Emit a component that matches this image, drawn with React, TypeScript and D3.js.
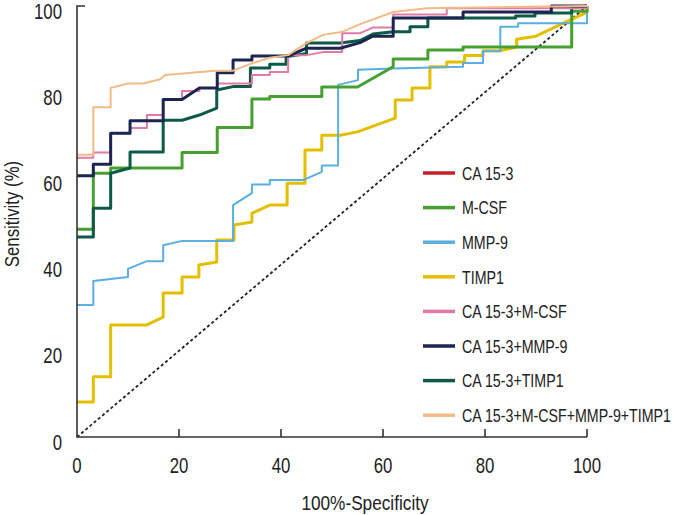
import * as d3 from "d3";
import React from "react";

// ROC curves: [100% - specificity, sensitivity]
const ca153: number[][] = []; // hidden under the other curves, legend only
const mcsf = [[0,48.2],[3.2,48.2],[3.2,61.2],[6.6,61.2],[6.6,62.4],[20.6,62.4],[20.6,66],[27.5,66],[27.5,71.8],[34.3,71.8],[34.3,78.4],[37.8,78.4],[37.8,79],[48,79],[48,81.2],[55,81.2],[62,85.9],[62,87.7],[68.8,87.7],[68.8,89.8],[75.7,89.8],[75.7,90.5],[97,90.5],[97,98.8],[100,98.8],[100,100]];
const mmp9 = [[0,30.6],[3.2,30.6],[3.2,36.2],[10,37.1],[10,39],[13.7,40.8],[16.9,40.8],[16.9,44.5],[20.6,45.5],[30.6,45.5],[30.6,53.8],[34.3,56.6],[34.3,58.6],[37.8,58.6],[37.8,59.6],[44.3,59.6],[48,61.5],[48,63],[51.2,63],[51.2,81.7],[55.1,82.8],[55.1,85.2],[62,85.5],[75.7,85.9],[75.7,86.8],[79.6,86.8],[79.6,89.5],[83,89.5],[83,95.2],[86.5,95.2],[86.5,96],[100,96],[100,100]];
const timp1 = [[0,8.1],[3.2,8.1],[3.2,14],[6.6,14],[6.6,26],[13.7,26],[16.9,27.8],[16.9,33.4],[20.6,33.4],[20.6,37.1],[23.9,37.1],[23.9,39.9],[27.4,40.6],[27.4,45.7],[30.8,45.7],[30.8,49.2],[34.3,49.9],[34.3,51.9],[37.8,53.8],[41.2,53.8],[41.2,58.9],[44.7,58.9],[44.7,66.6],[48,66.6],[48,70],[51.6,70],[55,70.8],[62.4,74],[62.4,78.2],[65.7,78.2],[65.7,81],[69.2,81],[69.2,85.9],[72.5,85.9],[72.5,87],[76,87],[76,88.5],[79.6,88.5],[79.6,89.6],[83,89.6],[86.2,90.5],[86.2,92.3],[90,93],[96.7,96.8],[100,98.5],[100,100]];
const caMcsf = [[0,64.8],[3.2,64.8],[3.2,66],[6.6,66],[6.6,70.5],[10.4,70.5],[10.4,71.7],[13.7,71.7],[13.7,74.7],[16.9,74.7],[16.9,78.3],[20.6,78.3],[20.6,80.3],[24,80.3],[24,81],[27.5,81],[27.5,82],[34.3,82],[34.3,84],[37.8,84],[37.8,84.7],[41.4,84.7],[41.4,88.6],[45,88.6],[48.2,89.3],[52,89.3],[52,93.7],[55.5,93.7],[58,95],[62,95],[62,98],[72.5,98],[72.5,99.5],[100,99.5],[100,100]];
const caMmp9 = [[0,60.6],[3.2,60.6],[3.2,63.3],[6.6,63.3],[6.6,70.5],[10.4,70.5],[10.4,73.4],[16.9,73.4],[16.9,78.3],[20.6,78.3],[24,81],[27.5,81],[27.5,84.5],[30.6,84.5],[30.6,87.5],[34.3,87.5],[34.3,88.4],[41.4,88.4],[45,90.2],[51.6,90.2],[55.5,91.5],[58,93],[62,93],[62,97.2],[75.7,97.2],[75.7,98.6],[93,98.6],[93,100],[100,100]];
const caTimp1 = [[0,46.4],[3.2,46.4],[3.2,53.1],[6.6,53.1],[6.6,61.2],[10.4,62.4],[10.4,66.1],[16.9,66.1],[16.9,73.5],[20.6,73.5],[24,74.7],[27.4,76.3],[27.4,80.5],[30.6,81.3],[34,81.3],[34,85.6],[37.8,85.6],[37.8,86.5],[41,86.5],[41,88.2],[45,89],[45,91.4],[51.6,91.4],[55.5,92],[58,93.5],[62,94],[65.3,94],[65.3,95.2],[68.8,95.2],[68.8,97.2],[86,97.2],[86,97.7],[89.8,97.7],[89.8,98.4],[97,98.4],[97,99.6],[100,100]];
const allFour = [[0,65.5],[3.2,65.5],[3.2,76.5],[6.6,76.5],[6.6,81],[10,82],[13,82],[16.3,83],[17.3,84],[27,85],[30.6,85],[34.3,86.7],[37.8,88],[41.4,88.6],[45,91.4],[48.2,93.3],[52,94],[55.5,95.8],[62,98.6],[68.6,99.5],[100,100]];

const seriesNames = ["CA 15-3", "M-CSF", "MMP-9", "TIMP1", "CA 15-3+M-CSF", "CA 15-3+MMP-9", "CA 15-3+TIMP1", "CA 15-3+M-CSF+MMP-9+TIMP1"];
const seriesData = [ca153, mcsf, mmp9, timp1, caMcsf, caMmp9, caTimp1, allFour];
const seriesColors = ["#c8202a", "#45a02f", "#5aaee0", "#e3bf00", "#e07aa6", "#1c2552", "#0d5a48", "#f2bb86"];
const seriesWidths = [3, 3, 2, 3, 2, 3, 3, 2];
const drawOrder = [3, 2, 1, 6, 4, 5, 7];

const xTicks = [0, 20, 40, 60, 80, 100];
const yTicks = [0, 20, 40, 60, 80, 100];

// Liberation Sans squeezed sideways ~ the narrow grotesque of the original
const FONT = "'Liberation Sans', Arial, sans-serif";

function Label(props: { x: number; y: number; size: number; sq: number; anchor?: string; rotate?: number; children: React.ReactNode }) {
  const { x, y, size, sq, anchor, rotate, children } = props;
  return (
    <text
      transform={`translate(${x},${y})${rotate ? ` rotate(${rotate})` : ""} scale(${sq},1)`}
      textAnchor={anchor || "start"}
      fontSize={size}
      fill="#222"
    >
      {children}
    </text>
  );
}

export default function App() {
  const x = d3.scaleLinear().domain([0, 100]).range([77, 587]);
  const y = d3.scaleLinear().domain([0, 100]).range([437, 6]);
  const line = d3.line<number[]>().x((d) => x(d[0])).y((d) => y(d[1]));

  return (
    <svg width={676} height={515} style={{ position: "absolute", left: 0, top: 0, background: "#fff" }} fontFamily={FONT}>
      {/* chance line */}
      <line x1={x(0)} y1={y(0)} x2={x(100)} y2={y(100)} stroke="#222" strokeWidth={1.8} strokeDasharray="3,2.5" />

      {drawOrder.map((i) => (
        <path key={i} d={line(seriesData[i]) || ""} fill="none" stroke={seriesColors[i]} strokeWidth={seriesWidths[i]} strokeLinejoin="round" />
      ))}

      {/* axes */}
      <path d={`M${x(0) + 8},${y(100)}H${x(0)}V${y(0)}H${x(100)}`} fill="none" stroke="#333" strokeWidth={1.6} />
      {xTicks.filter((t) => t > 0).map((t) => (
        <line key={t} x1={x(t)} x2={x(t)} y1={y(0)} y2={y(0) - 8} stroke="#333" strokeWidth={1.6} />
      ))}
      {xTicks.map((t) => (
        <Label key={t} x={x(t)} y={473} size={21.5} sq={0.78} anchor="middle">{t}</Label>
      ))}
      {yTicks.map((t) => (
        <Label key={t} x={62} y={y(t) + 12.5} size={21.5} sq={0.78} anchor="end">{t}</Label>
      ))}
      <Label x={365} y={510} size={21} sq={0.82} anchor="middle">100%-Specificity</Label>
      <Label x={19} y={214} size={21} sq={0.8} anchor="middle" rotate={-90}>Sensitivity (%)</Label>

      {/* legend */}
      {seriesNames.map((name, i) => (
        <g key={name} transform={`translate(423,${173 + i * 34.6})`}>
          <line x1={0} x2={32} y1={0} y2={0} stroke={seriesColors[i]} strokeWidth={3.5} />
          <Label x={39} y={6.8} size={18} sq={0.79}>{name}</Label>
        </g>
      ))}
    </svg>
  );
}
